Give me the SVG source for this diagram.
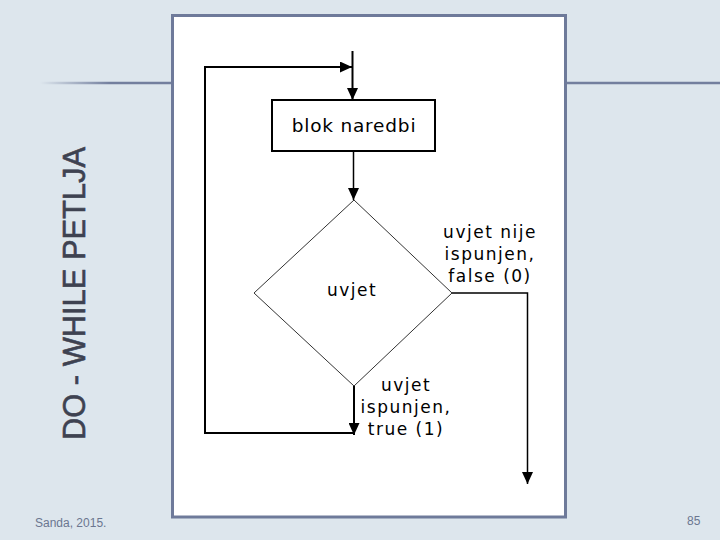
<svg xmlns="http://www.w3.org/2000/svg" width="720" height="540" viewBox="0 0 720 540">
<style>
.bg{fill:#dde6ed}
.rule{stroke:#737f9e;stroke-width:2.5;fill:none}
.frame{fill:#ffffff;stroke:#6e7a9a;stroke-width:3}
.title{font-family:"Liberation Sans",Arial,sans-serif;font-size:31px;fill:#3e4251;stroke:#3e4251;stroke-width:0.6}
.foot{font-family:"Liberation Sans",Arial,sans-serif;font-size:12px;fill:#6b7690}
.lbl{font-family:"DejaVu Sans",Verdana,sans-serif;font-size:17px;letter-spacing:1.5px;fill:#000;text-anchor:middle}
.big{font-family:"DejaVu Sans",Verdana,sans-serif;font-size:18.5px;letter-spacing:0.8px;fill:#000;text-anchor:middle}
.box{fill:#fff;stroke:#000;stroke-width:2}
.dia{fill:#fff;stroke:#333;stroke-width:1}
.c{fill:none;stroke:#000;stroke-width:1.5}
.cb{fill:none;stroke:#000;stroke-width:2}
</style>
<defs>
<linearGradient id="fade" x1="40" y1="0" x2="110" y2="0" gradientUnits="userSpaceOnUse">
<stop offset="0" stop-color="#737f9e" stop-opacity="0"/>
<stop offset="1" stop-color="#737f9e" stop-opacity="1"/>
</linearGradient>
<marker id="ah" markerUnits="userSpaceOnUse" markerWidth="12" markerHeight="11" refX="12" refY="5.5" orient="auto">
<path d="M0,0 L12,5.5 L0,11 z" fill="#000"/>
</marker>
</defs>
<rect class="bg" x="0" y="0" width="720" height="540"/>
<line x1="40" y1="83" x2="172" y2="83" stroke="url(#fade)" stroke-width="2.5"/>
<line class="rule" x1="566" y1="83" x2="720" y2="83"/>
<text class="title" transform="translate(85,440) rotate(-90)" x="0" y="0" textLength="293" lengthAdjust="spacingAndGlyphs">DO - WHILE PETLJA</text>
<text class="foot" x="35" y="527">Sanda, 2015.</text>
<text class="foot" x="687" y="525">85</text>
<rect class="frame" x="172.5" y="15.5" width="393" height="501.5"/>
<g id="connectors">
<path class="cb" d="M352.5,51 V100" marker-end="url(#ah)"/>
<path class="cb" d="M354,433 H205 V67 H352" marker-end="url(#ah)"/>
<path class="c" d="M353.5,151 V200" marker-end="url(#ah)"/>
<path class="c" d="M452,293 H527.5 V484" marker-end="url(#ah)"/>
<path class="cb" d="M354,386 V435" stroke="#333" marker-end="url(#ah)"/>
</g>
<g id="blok">
<rect class="box" x="272" y="100" width="163" height="51"/>
<text class="big" x="354" y="132">blok naredbi</text>
</g>
<g id="uvjet">
<polygon class="dia" points="354,200 452,293 354,386 254,293"/>
<text class="lbl" x="352" y="296">uvjet</text>
</g>
<g id="label-false">
<text class="lbl" x="490" y="238">uvjet nije</text>
<text class="lbl" x="490" y="260">ispunjen,</text>
<text class="lbl" x="490" y="282">false (0)</text>
</g>
<g id="label-true">
<text class="lbl" x="406" y="391">uvjet</text>
<text class="lbl" x="406" y="413">ispunjen,</text>
<text class="lbl" x="406" y="435">true (1)</text>
</g>
</svg>
